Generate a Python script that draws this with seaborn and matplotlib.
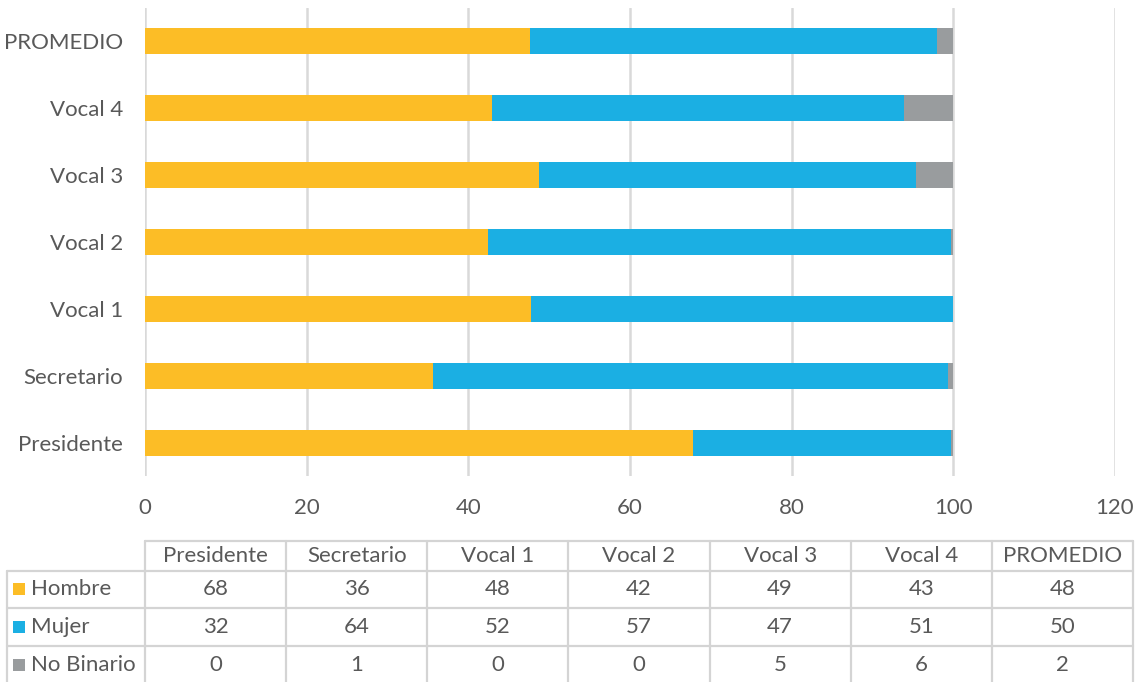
import numpy as np
import pandas as pd
import matplotlib
matplotlib.use("Agg")
import matplotlib.pyplot as plt
import seaborn as sns
from matplotlib.lines import Line2D
from matplotlib.patches import Rectangle

# ---------------- data ----------------
categories = ["Presidente", "Secretario", "Vocal 1", "Vocal 2", "Vocal 3", "Vocal 4", "PROMEDIO"]
series_names = ["Hombre", "Mujer", "No Binario"]
# bar values
hombre = [67.8, 35.6, 47.8, 42.4, 48.7, 42.9, 47.6]
mujer = [31.95, 63.8, 52.2, 57.35, 46.7, 51.0, 50.4]
no_binario = [0.25, 0.6, 0.0, 0.25, 4.6, 6.1, 2.0]
# values printed in the data table
tabla_hombre = [68, 36, 48, 42, 49, 43, 48]
tabla_mujer = [32, 64, 52, 57, 47, 51, 50]
tabla_no_binario = [0, 1, 0, 0, 5, 6, 2]
x_ticks = [0, 20, 40, 60, 80, 100, 120]

# ---------------- style ----------------
C_H = "#FCBD26"
C_M = "#1BAFE3"
C_N = "#999C9E"
TXT = "#595959"
GRID = "#D9D9D9"
FS = 16

sns.set_theme(style="white")
plt.rcParams["font.family"] = ["Lato", "DejaVu Sans"]

W, H = 1144, 682
fig = plt.figure(figsize=(W / 100, H / 100), dpi=100)

def fx(x):
    return x / W

def fy(y):
    return 1 - y / H

ax = fig.add_axes([fx(145), fy(476), fx(1115) - fx(145), fy(8) - fy(476)])

df = pd.DataFrame({
    "cat": categories,
    "Hombre": hombre,
    "Mujer": mujer,
    "No Binario": no_binario,
})
df["hm"] = df["Hombre"] + df["Mujer"]
df["total"] = df["hm"] + df["No Binario"]
order = categories[::-1]

for col, c in [("total", C_N), ("hm", C_M), ("Hombre", C_H)]:
    sns.barplot(data=df, y="cat", x=col, order=order, color=c, saturation=1,
                width=0.39, linewidth=0, ax=ax, errorbar=None)

ax.set_xlim(0, 120)
ax.set_xticks(x_ticks)
ax.set_ylim(6.5, -0.5)
ax.set_xlabel("")
ax.set_ylabel("")
ax.set_axisbelow(True)
ax.xaxis.grid(True, color=GRID, lw=1.8)
ax.yaxis.grid(False)
for s in ax.spines.values():
    s.set_visible(False)
ax.tick_params(axis="x", length=0, pad=16, labelsize=FS, labelcolor=TXT)
ax.tick_params(axis="y", length=0, pad=16, labelsize=FS, labelcolor=TXT)

# ---------------- data table ----------------
LINE = "#D4D4D4"
col_edges = [145 + i * 141.14 for i in range(8)]
row_edges = [541, 571, 608, 646, 690]

def hline(y, x0, x1):
    fig.add_artist(Line2D([fx(x0), fx(x1)], [fy(y), fy(y)], transform=fig.transFigure,
                          color=LINE, lw=1.6))

def vline(x, y0, y1):
    fig.add_artist(Line2D([fx(x), fx(x)], [fy(y0), fy(y1)], transform=fig.transFigure,
                          color=LINE, lw=1.6))

hline(row_edges[0], col_edges[0], col_edges[-1])
for y in row_edges[1:4]:
    hline(y, 7, col_edges[-1])
vline(7, row_edges[1], 690)
for x in col_edges:
    vline(x, row_edges[0], 690)

# header
for i, cat in enumerate(categories):
    cx = (col_edges[i] + col_edges[i + 1]) / 2
    fig.text(fx(cx), fy(556), cat, ha="center", va="center", fontsize=FS, color=TXT)

rows = [tabla_hombre, tabla_mujer, tabla_no_binario]
colors = [C_H, C_M, C_N]
row_centers = [589, 627, 665]
for r, (name, vals, c, cy) in enumerate(zip(series_names, rows, colors, row_centers)):
    fig.add_artist(Rectangle((fx(13), fy(cy + 6)), fx(12), 12 / H, transform=fig.transFigure,
                             color=c, lw=0))
    fig.text(fx(31), fy(cy), name, ha="left", va="center", fontsize=FS, color=TXT)
    for i, v in enumerate(vals):
        cx = (col_edges[i] + col_edges[i + 1]) / 2
        fig.text(fx(cx), fy(cy), str(v), ha="center", va="center", fontsize=FS, color=TXT)

fig.savefig("out.png", dpi=100, facecolor="white")
